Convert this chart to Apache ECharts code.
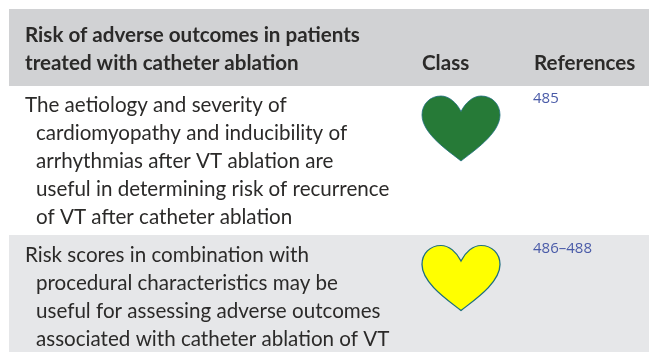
<!DOCTYPE html>
<html><head><meta charset="utf-8">
<style>html,body{margin:0;padding:0;background:#fff}#c{width:649px;height:352px}</style>
<script src="https://cdn.jsdelivr.net/npm/echarts@6/dist/echarts.min.js"></script>
</head><body><div id="c"></div>
<script>
const headerLines = ['Risk of adverse outcomes in patients', 'treated with catheter ablation'];
const classHeader = 'Class';
const refsHeader = 'References';
const row1Lines = ['The aetiology and severity of', 'cardiomyopathy and inducibility of', 'arrhythmias after VT ablation are', 'useful in determining risk of recurrence', 'of VT after catheter ablation'];
const row2Lines = ['Risk scores in combination with', 'procedural characteristics may be', 'useful for assessing adverse outcomes', 'associated with catheter ablation of VT'];
const refs = ['485', '486\u2013488'];
const classColors = ['#267a37', '#ffff00'];
const heartPath = 'path://M39 65C28 56 0 38 0 19C0 8 8 0 19 0C27 0 34.5 6.5 39 15.5C43.5 6.5 51 0 59 0C70 0 78 8 78 19C78 38 50 56 39 65Z';
const font = 'Lato, "Open Sans", sans-serif';
const txt = (s, x, y, o) => ({type:'text', x, y, z:5, style:Object.assign({text:s, fill:'#2b2a29', font:'20.6px ' + font, textVerticalAlign:'middle', verticalAlign:'middle'}, o||{})});
const rect = (x,y,w,h,c) => ({type:'rect', z:0, shape:{x,y,width:w,height:h}, style:{fill:c}, silent:true});
const bold = {font:'bold 20.6px ' + font};
const elements = [
  rect(9,9,640,77,'#d1d2d4'), rect(9,235,640,117,'#e6e7e9'),
  txt(headerLines[0],25,35.5,bold), txt(headerLines[1],25,63.5,bold),
  txt(classHeader,422,63.5,bold), txt(refsHeader,534,63.5,bold)
];
row1Lines.forEach((s,i)=>elements.push(txt(s,i?36:25,105.5+28*i)));
row2Lines.forEach((s,i)=>elements.push(txt(s,i?36:25,255.5+28*i)));
refs.forEach((s,i)=>elements.push(txt(s,533,[99,249][i],{font:'15px "Open Sans", sans-serif',fill:'#4a5ba8'})));
const chart = echarts.init(document.getElementById('c'), null, {renderer:'canvas'});
chart.setOption({
  animation:false,
  grid:{left:0,right:0,top:0,bottom:0},
  xAxis:{type:'value',min:0,max:649,show:false},
  yAxis:{type:'value',min:0,max:352,inverse:true,show:false},
  graphic:{elements},
  series:[{type:'scatter',z:10,symbol:heartPath,symbolSize:[78,65],
    itemStyle:{opacity:1,borderColor:'#1f6f80',borderWidth:1.2},
    data:[{value:[461,128.5],itemStyle:{color:classColors[0],borderWidth:0.8}},{value:[461,278],itemStyle:{color:classColors[1]}}]
  }]
});
</script></body></html>
